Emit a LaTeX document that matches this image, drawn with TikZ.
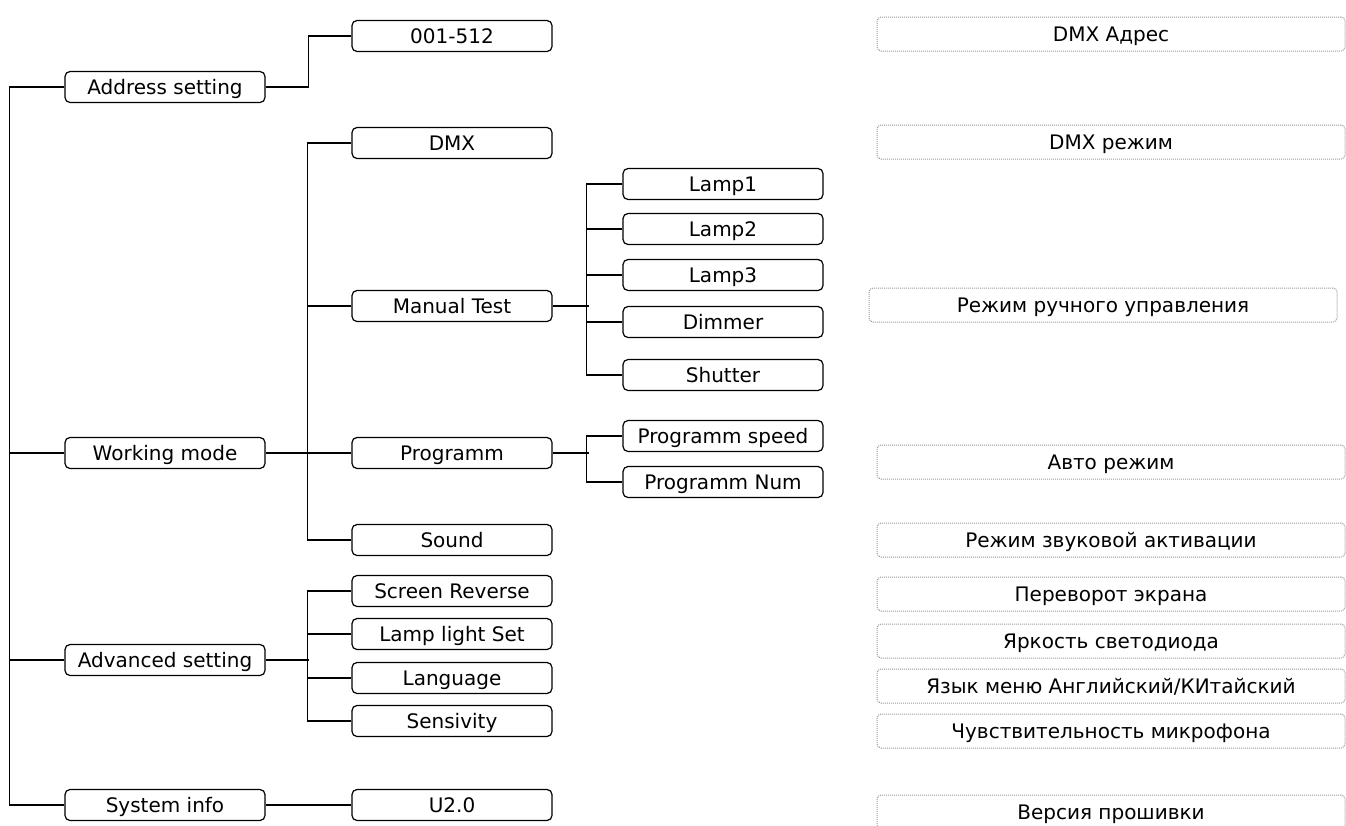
\documentclass[tikz,border=0pt]{standalone}
\usepackage{fontspec}
\setmainfont{DejaVu Sans}
\usepackage{xcolor}

\tikzset{
  menu/.style={draw, line width=1.2pt, rounded corners=5pt, minimum width=200pt,
    minimum height=31pt, inner sep=0pt, text height=18pt, text depth=3.4pt,
    font=\fontsize{20}{23}\selectfont},
  note/.style={draw=gray!80, densely dotted, line width=1pt, rounded corners=4pt,
    minimum width=468pt, minimum height=34pt, inner sep=0pt, text height=18pt,
    text depth=3.4pt, font=\fontsize{20}{23}\selectfont},
  wire/.style={line width=1.2pt}
}

\begin{document}
\begin{tikzpicture}[x=1pt,y=-1pt]
        \useasboundingbox (0,0) rectangle (1346,825);
        % first level
        \node[menu](addr) at (165,87) {Address setting};
        \node[menu](work) at (165,453) {Working mode};
        \node[menu](adv) at (165,660) {Advanced setting};
        \node[menu](sysinfo) at (165,805) {System info};
        % second level
        \node[menu](range) at (452,36) {001-512};
        \node[menu](dmx) at (452,143) {DMX};
        \node[menu](manual) at (452,306) {Manual Test};
        \node[menu](prog) at (452,453) {Programm};
        \node[menu](sound) at (452,540) {Sound};
        \node[menu](screen) at (452,591) {Screen Reverse};
        \node[menu](lampset) at (452,634) {Lamp light Set};
        \node[menu](lang) at (452,678) {Language};
        \node[menu](sens) at (452,721) {Sensivity};
        \node[menu](ver) at (452,805) {U2.0};
        % third level
        \node[menu](lampa) at (723,184) {Lamp1};
        \node[menu](lampb) at (723,229) {Lamp2};
        \node[menu](lampc) at (723,275) {Lamp3};
        \node[menu](dimmer) at (723,322) {Dimmer};
        \node[menu](shutter) at (723,375) {Shutter};
        \node[menu](pspeed) at (723,436) {Programm speed};
        \node[menu](pnum) at (723,482) {Programm Num};
        % notes
        \node[note](n1) at (1111,34) {DMX Адрес};
        \node[note](n2) at (1111,142) {DMX режим};
        \node[note](n3) at (1103,305) {Режим ручного управления};
        \node[note](n4) at (1111,462) {Авто режим};
        \node[note](n5) at (1111,540) {Режим звуковой активации};
        \node[note](n6) at (1111,594) {Переворот экрана};
        \node[note](n7) at (1111,641) {Яркость светодиода};
        \node[note](n8) at (1111,686) {Язык меню Английский/КИтайский};
        \node[note](n9) at (1111,731) {Чувствительность микрофона};
        \node[note](n10) at (1111,812) {Версия прошивки};
        % connectors
        \draw[wire](addr.west) -- ++(-55,0) |- (sysinfo.west);
        \draw[wire](work.west) -- ++(-55,0);
        \draw[wire](adv.west) -- ++(-55,0);
        \draw[wire](addr.east) -- ++(43,0) |- (range.west);
        \draw[wire](dmx.west) -- ++(-44,0) |- (sound.west);
        \draw[wire](manual.west) -- ++(-44,0);
        \draw[wire](work.east) -- (prog.west);
        \draw[wire](screen.west) -- ++(-44,0) |- (sens.west);
        \draw[wire](lampset.west) -- ++(-44,0);
        \draw[wire](lang.west) -- ++(-44,0);
        \draw[wire](adv.east) -- ++(43,0);
        \draw[wire](sysinfo.east) -- (ver.west);
        \draw[wire](lampa.west) -- ++(-36,0) |- (shutter.west);
        \draw[wire](lampb.west) -- ++(-36,0);
        \draw[wire](lampc.west) -- ++(-36,0);
        \draw[wire](dimmer.west) -- ++(-36,0);
        \draw[wire](manual.east) -- ++(36,0);
        \draw[wire](pspeed.west) -- ++(-36,0) |- (pnum.west);
        \draw[wire](prog.east) -- ++(36,0);
        \end{tikzpicture}
\end{document}
